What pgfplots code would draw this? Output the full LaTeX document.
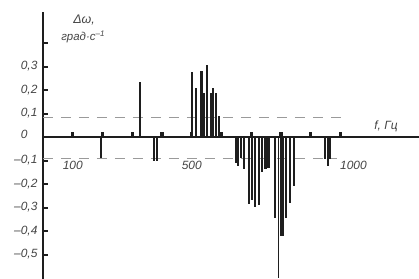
\documentclass[border=0pt]{standalone}
\usepackage{pgfplots}
\pgfplotsset{compat=1.18}
\usepackage{fontspec}
\setmainfont{Liberation Sans}
\definecolor{barc}{HTML}{1E1E1E}
\definecolor{dashc}{HTML}{9A9A9A}
\definecolor{txtc}{HTML}{444444}
\begin{document}
\begin{tikzpicture}
\begin{axis}[
  scale only axis,
  width=376bp, height=266.5bp,
  xmin=0, xmax=1264, ymin=-0.604, ymax=0.53,
  axis x line=middle, axis y line=left,
  axis line style={barc},
  x axis line style={line width=1.8bp, -},
  y axis line style={line width=2.8bp, -},
  clip=false,
  xtick={100,200,300,400,500,600,700,800,900,1000},
  xticklabels={100,,,,500,,,,,\hspace*{26bp}1000},
  x tick style={line width=3.2bp, barc},
  xtick align=inside,
  x tick label style={yshift=-21bp, font=\itshape\fontsize{12}{13}\selectfont, text=txtc},
  ytick={-0.5,-0.4,-0.3,-0.2,-0.1,0,0.1,0.2,0.3,0.4},
  yticklabels={{–0,5},{–0,4},{–0,3},{–0,2},{–0,1},\raisebox{5bp}{0}\hspace*{10bp},{0,1},{0,2},{0,3},{}},
  y tick style={line width=2bp, barc},
  ytick align=inside,
  major tick length=5bp,
  y tick label style={font=\itshape\fontsize{12}{13}\selectfont, text=txtc, xshift=-2bp},
  every axis plot/.append style={no marks},
]
% dashed thresholds
\addplot[dashc, line width=1bp, dash pattern=on 10bp off 8bp] coordinates {(0,0.085) (1015,0.085)};
\addplot[dashc, line width=1bp, dash pattern=on 10bp off 8bp] coordinates {(0,-0.092) (990,-0.092)};
% bars
\addplot[ycomb, barc, line width=2.1bp] coordinates {
 (195,-0.09) (326,0.234) (374,-0.10) (382,-0.10)
 (501,0.275) (513,0.21) (533,0.28) (542,0.187) (551,0.306) (565,0.187) (571,0.21) (581,0.187) (593,0.09)
 (649,-0.11) (657,-0.125) (667,-0.09) (677,-0.136) (692,-0.285) (703,-0.27) (713,-0.296) (725,-0.29)
 (736,-0.148) (748,-0.138) (758,-0.133) (780,-0.346) (816,-0.346) (830,-0.28) (844,-0.21)
 (948,-0.095) (957,-0.123) (966,-0.095)
};
\addplot[ycomb, barc, line width=1.2bp] coordinates {(793,-0.60)};
\addplot[ycomb, barc, line width=3.8bp] coordinates {(803,-0.42)};
% labels
\node[text=txtc, font=\itshape\fontsize{12.5}{13}\selectfont] at (axis cs:138,0.497) {Δω,};
\node[text=txtc, font=\itshape\fontsize{11.5}{12}\selectfont] at (axis cs:135,0.425) {град·с\textsuperscript{–1}};
\node[text=txtc, font=\itshape\fontsize{12}{13}\selectfont] at (axis cs:1153,0.045) {f, Гц};
\coordinate (BL) at (axis cs:-144.5,-0.604);
\coordinate (TR) at (axis cs:1264,0.583);
\end{axis}
\pgfresetboundingbox
\path[use as bounding box] (BL) rectangle (TR);
\end{tikzpicture}
\end{document}
